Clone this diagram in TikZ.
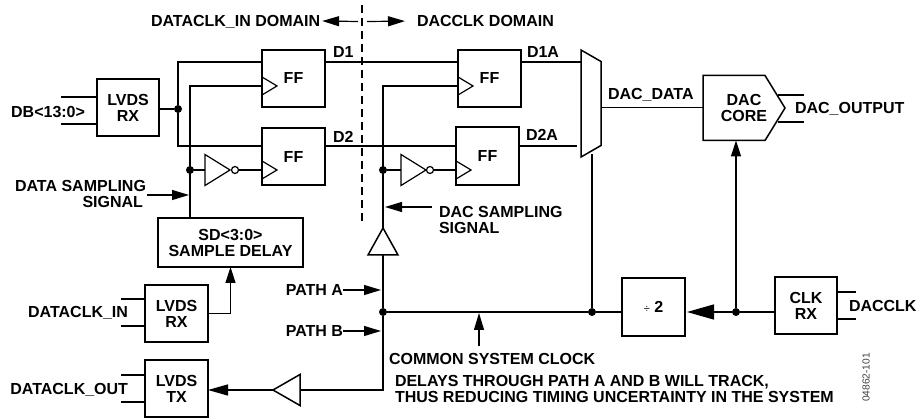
\documentclass[tikz,border=0pt]{standalone}
\usepackage{fontspec}
\setmainfont{Liberation Sans}
\usepackage{tikz}
\usetikzlibrary{positioning,arrows.meta,shapes.geometric}

\begin{document}
\begin{tikzpicture}[
    x=1pt, y=-1pt,
    logicBox/.style={rectangle, draw=black, line width=1.5pt, font=\bfseries\fontsize{16}{16}\selectfont, inner sep=0pt, outer sep=0pt, minimum width=62pt, minimum height=57pt, align=center},
    sigLabel/.style={font=\bfseries\fontsize{16}{16}\selectfont, inner sep=0pt, outer sep=0pt, text height=11.5pt, text depth=0pt, align=center},
    sigBlock/.style={font=\bfseries\fontsize{16}{16}\selectfont, inner sep=0pt, outer sep=0pt},
    gateTri/.style={isosceles triangle, isosceles triangle stretches, draw=black, line width=1.5pt, inner sep=0pt, outer sep=0pt},
    clockTri/.style={gateTri, line width=1.2pt, minimum width=18pt, minimum height=15pt, anchor=lower side},
    invTri/.style={gateTri, line width=1.2pt, minimum width=31pt, minimum height=25pt, anchor=lower side},
    invBubble/.style={circle, draw=black, line width=1.2pt, fill=white, minimum size=7pt, inner sep=0pt, outer sep=0pt},
    dotNode/.style={circle, fill=black, minimum size=8pt, inner sep=0pt, outer sep=0pt},
    wire/.style={line width=1.5pt},
    lead/.style={line width=1.2pt},
    sigArrow/.style={line width=1.2pt, -{Triangle[length=17pt, width=10pt]}},
    busArrow/.style={line width=1.5pt, -{Triangle[length=17pt, width=11pt]}}
]
    \useasboundingbox (0,0) rectangle (918,419);

    % Blocks: Left Column
    \node[logicBox] (rxData) at (128,107.5) {LVDS\\RX};
    \node[logicBox, minimum width=145pt, minimum height=49pt] (sdBox) at (230.5,242.5) {SD<3:0>\\SAMPLE DELAY};
    \node[logicBox, minimum width=63pt] (rxClk) at (176.5,313.5) {LVDS\\RX};
    \node[logicBox, minimum width=63pt] (txBox) at (176.5,388.5) {LVDS\\TX};

    % Blocks: Flip-Flops
    \node[logicBox, minimum width=63pt] (ffOne) at (293.5,78.5) {FF};
    \node[logicBox, minimum width=63pt] (ffTwo) at (293.5,156.5) {FF};
    \node[logicBox, minimum width=63pt] (ffThree) at (489.5,78.5) {FF};
    \node[logicBox, minimum width=63pt, minimum height=58pt] (ffFour) at (487.5,156) {FF};

    % Blocks: Right Side
    \node[logicBox, draw=none, minimum width=82pt, minimum height=65pt] (dacCore) at (744,108) {DAC\\CORE};
    \draw[wire] (dacCore.north west) -- ([xshift=-20pt]dacCore.north east) -- (dacCore.east) -- ([xshift=-20pt]dacCore.south east) -- (dacCore.south west) -- cycle;
    \node[logicBox, minimum width=63pt, minimum height=58pt] (divBox) at (653.5,307) {{\mdseries\fontsize{11}{11}\selectfont ÷} 2};
    \node[logicBox, minimum width=62pt] (rxDac) at (806,305.5) {CLK\\RX};

    % Multiplexer
    \coordinate (muxA) at (581,50);
    \coordinate (muxB) at (601,61.5);
    \coordinate (muxC) at (601,145.5);
    \coordinate (muxD) at (581,157);
    \draw[wire] (muxA) -- (muxB) -- (muxC) -- (muxD) -- cycle;

    % Clock Inputs and Inverters
    \node[clockTri] (ckOne) at (262,86) {};
    \node[clockTri] (ckTwo) at (262,170) {};
    \node[clockTri] (ckThree) at (458,86) {};
    \node[clockTri] (ckFour) at (456,170) {};
    \node[invTri] (invOne) at (205,170) {};
    \node[invBubble] (bubOne) at (235,170) {};
    \node[invTri] (invTwo) at (401,170) {};
    \node[invBubble] (bubTwo) at (430,170) {};

    % Buffers
    \node[gateTri, shape border rotate=90, minimum width=30pt, minimum height=27pt, anchor=lower side] (bufUp) at (383,255) {};
    \node[gateTri, shape border rotate=180, minimum width=31pt, minimum height=27pt, anchor=lower side] (bufLeft) at (300,390) {};

    % Junctions
    \node[dotNode] (jData) at (178,109) {};
    \node[dotNode] (jSampA) at (190,170) {};
    \node[dotNode] (jSampB) at (383,170) {};
    \node[dotNode] (jPath) at (383,312) {};
    \node[dotNode] (jMux) at (592,312) {};
    \node[dotNode] (jClk) at (736,312) {};

    % Text Labels
    \node[sigLabel, anchor=west] (lblDataDom) at (151,21) {DATACLK\_IN DOMAIN};
    \node[sigLabel, anchor=west] (lblDacDom) at (417,21) {DACCLK DOMAIN};
    \node[sigLabel, anchor=east] (lblDb) at (85,112) {DB<13:0>};
    \node[sigLabel, anchor=west] (lblDOne) at (333,52) {D1};
    \node[sigLabel, anchor=west] (lblDTwo) at (333,137) {D2};
    \node[sigLabel, anchor=west] (lblDOneA) at (527,52) {D1A};
    \node[sigLabel, anchor=west] (lblDTwoA) at (526,135) {D2A};
    \node[sigLabel, anchor=west] (lblDacData) at (608,94) {DAC\_DATA};
    \node[sigLabel, anchor=west] (lblDacOut) at (795,107.5) {DAC\_OUTPUT};
    \node[sigBlock, anchor=east, align=right] (lblDataSamp) at (146,193.5) {DATA SAMPLING\\SIGNAL\kern3pt};
    \node[sigBlock, anchor=west, align=left] (lblDacSamp) at (439,219.5) {DAC SAMPLING\\SIGNAL};
    \node[sigLabel, anchor=east] (lblClkIn) at (128,312) {DATACLK\_IN};
    \node[sigLabel, anchor=east] (lblClkOut) at (128,389) {DATACLK\_OUT};
    \node[sigLabel, anchor=east] (lblPathA) at (343,290) {PATH A};
    \node[sigLabel, anchor=east] (lblPathB) at (343,331) {PATH B};
    \node[sigLabel, anchor=west] (lblDacClk) at (849,306) {DACCLK};
    \node[sigLabel, anchor=west] (lblCommon) at (389,359) {COMMON SYSTEM CLOCK};
    \node[sigBlock, anchor=west, align=left] (lblDelays) at (395,389) {DELAYS THROUGH PATH A AND B WILL TRACK,\\THUS REDUCING TIMING UNCERTAINTY IN THE SYSTEM};
    \node[font=\fontsize{10.2}{10.2}\selectfont, text=black!75, rotate=90, inner sep=0pt] (lblFig) at (866,377.5) {04862-101};

    % Free Ends
    \coordinate (dbTop) at (61,97);
    \coordinate (dbBot) at (61,124);
    \coordinate (clkInTop) at (121,299);
    \coordinate (clkInBot) at (121,326);
    \coordinate (clkOutTop) at (121,375);
    \coordinate (clkOutBot) at (121,402);
    \coordinate (dacTop) at (804,95);
    \coordinate (dacBot) at (804,122);
    \coordinate (dacClkTop) at (856,292);
    \coordinate (dacClkBot) at (856,319);
    \coordinate (wireDOne) at (0,62);
    \coordinate (wireDTwo) at (0,146);
    \coordinate (dTwoEnd) at (577,146);
    \coordinate (muxOut) at (601,107.5);
    \coordinate (muxClk) at (592,154);
    \coordinate (sampFoot) at (190,218);
    \coordinate (sampTail) at (147,195);
    \coordinate (dacSampTail) at (432,207);
    \coordinate (commonTail) at (479,346);
    \coordinate (domLeftTail) at (358,21.5);
    \coordinate (domRightTail) at (367,21.5);
    \coordinate (dashTop) at (362,5);
    \coordinate (dashBot) at (362,222);

    % Input and Output Leads
    \draw[lead] (dbTop) -- (dbTop -| rxData.west);
    \draw[lead] (dbBot) -- (dbBot -| rxData.west);
    \draw[lead] (clkInTop) -- (clkInTop -| rxClk.west);
    \draw[lead] (clkInBot) -- (clkInBot -| rxClk.west);
    \draw[lead] (clkOutTop) -- (clkOutTop -| txBox.west);
    \draw[lead] (clkOutBot) -- (clkOutBot -| txBox.west);
    \draw[lead] ([xshift=-26pt]dacTop) -- (dacTop);
    \draw[lead] ([xshift=-26pt]dacBot) -- (dacBot);
    \draw[lead] (dacClkTop) -- (dacClkTop -| rxDac.east);
    \draw[lead] (dacClkBot) -- (dacClkBot -| rxDac.east);

    % Data Path
    \draw[wire] (jData -| rxData.east) -- (jData);
    \draw[wire] (wireDOne -| ffOne.west) -| (jData) |- (wireDTwo -| ffTwo.west);
    \draw[wire] (wireDOne -| ffOne.east) -- (wireDOne -| ffThree.west);
    \draw[wire] (wireDTwo -| ffTwo.east) -- (wireDTwo -| ffFour.west);
    \draw[wire] (wireDOne -| ffThree.east) -- (wireDOne -| muxA);
    \draw[wire] (wireDTwo -| ffFour.east) -- (dTwoEnd);
    \draw[wire] (muxOut) -- (muxOut -| dacCore.west);

    % Clock Path
    \draw[wire] (sampFoot) |- (ckOne.lower side);
    \draw[wire] (jSampA) -- (invOne.lower side);
    \draw[wire] (bubOne.east) -- (ckTwo.lower side);
    \draw[wire] (bufUp.apex) |- (ckThree.lower side);
    \draw[wire] (jSampB) -- (invTwo.lower side);
    \draw[wire] (bubTwo.east) -- (ckFour.lower side);
    \draw[wire] (bufUp.lower side) -- (jPath);
    \draw[wire] (jPath) |- (bufLeft.lower side);
    \draw[wire] (jPath) -- (jMux) -- (jMux -| divBox.west);
    \draw[wire] (jMux) -- (muxClk);
    \draw[wire] (jClk -| rxDac.west) -- (jClk);
    \draw[wire, -{Triangle[length=27pt, width=15pt]}, shorten >=2pt] (jClk) -- (jClk -| divBox.east);
    \draw[busArrow, -{Triangle[length=16pt, width=10pt]}] (jClk) -- (jClk |- dacCore.south);
    \draw[busArrow, -{Triangle[length=20pt, width=11pt]}] (bufLeft.apex) -- (bufLeft.apex -| txBox.east);
    \draw[busArrow, -{Triangle[length=16pt, width=10pt]}] (rxClk.east) -| (sdBox.south);

    % Signal Callouts
    \draw[sigArrow] (sampTail) -- ([xshift=-1pt]sampTail -| jSampA);
    \draw[sigArrow] (dacSampTail) -- ([xshift=2pt]dacSampTail -| jSampB);
    \draw[sigArrow, shorten >=2pt] (lblPathA.east) -- (lblPathA -| jPath);
    \draw[sigArrow, shorten >=2pt] (lblPathB.east) -- (lblPathB -| jPath);
    \draw[sigArrow] (commonTail) -- ([yshift=-1pt]commonTail |- jPath);
    \draw[sigArrow] (domLeftTail) -- ([xshift=2pt]lblDataDom.east);
    \draw[sigArrow, shorten >=12pt] (domRightTail) -- (lblDacDom.west);

    % Domain Boundary
    \draw[wire, dash pattern=on 8pt off 5pt] (dashTop) -- (dashBot);
\end{tikzpicture}
\end{document}
